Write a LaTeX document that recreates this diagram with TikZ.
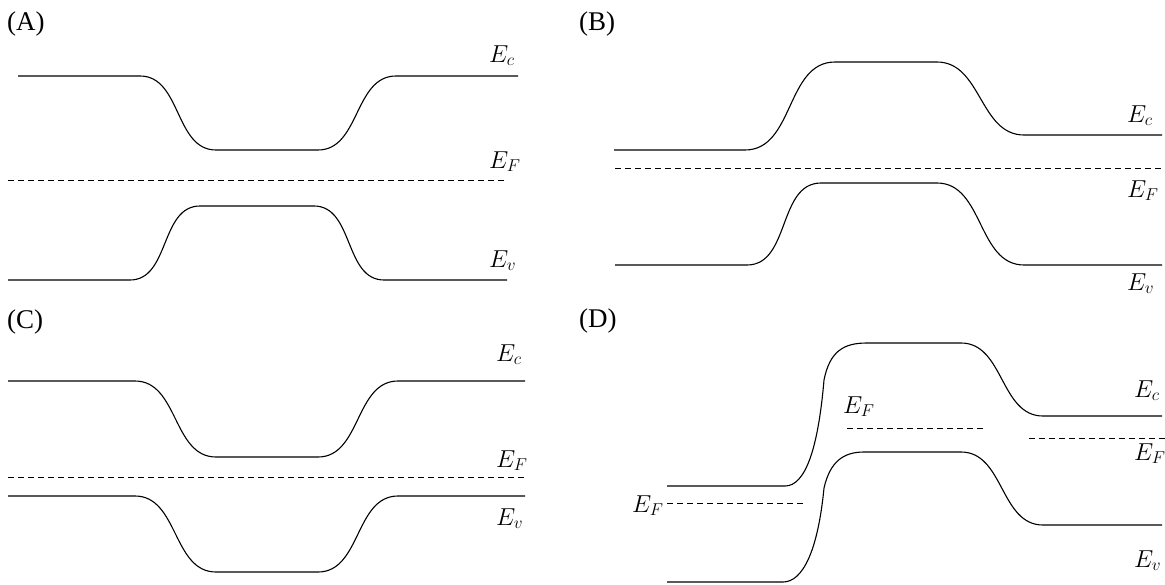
\RequirePackage{fix-cm}
\documentclass[tikz,border=0pt]{standalone}
\usepackage{fontspec}
\setmainfont{Liberation Serif}
\begin{document}
\begin{tikzpicture}[x=1pt,y=-1pt,
  band/.style={line width=1.1pt},
  fermi/.style={line width=0.9pt, dash pattern=on 6pt off 4pt},
  lab/.style={anchor=base west, inner sep=0pt, font=\fontsize{24.5}{28}\selectfont},
  panel/.style={anchor=base west, inner sep=0pt, font=\fontsize{27}{31}\selectfont}]
\useasboundingbox (0,0) rectangle (1165,584);

% ---------- (A)
\node[panel] (pA) at (7,30) {(A)};
\draw[band] (18,76) -- (140,76) to[out=0,in=180] (216,150) -- (318,150) to[out=0,in=180] (396,76) -- (518,76);
\draw[fermi] (8,180) -- (505,180);
\draw[band] (8,280) -- (130,280) to[out=0,in=180] (200,206) -- (314,206) to[out=0,in=180] (384,280) -- (507,280);
\node[lab] (aEc) at (489,62) {$E_c$};
\node[lab] (aEF) at (489,168) {$E_F$};
\node[lab] (aEv) at (489,267) {$E_v$};

% ---------- (B)
\node[panel] (pB) at (579,30) {(B)};
\draw[band] (614,150) -- (745,150) to[out=0,in=180] (835,62) -- (937,62) to[out=0,in=180] (1024,135) -- (1162,135);
\draw[fermi] (615,168) -- (1165,168);
\draw[band] (615,265) -- (747,265) to[out=0,in=180] (821,183) -- (937,183) to[out=0,in=180] (1024,265) -- (1162,265);
\node[lab] (bEc) at (1127,122) {$E_c$};
\node[lab] (bEF) at (1127,197) {$E_F$};
\node[lab] (bEv) at (1127,290) {$E_v$};

% ---------- (C)
\node[panel] (pC) at (7,328) {(C)};
\draw[band] (8,381) -- (135,381) to[out=0,in=180] (216,457) -- (318,457) to[out=0,in=180] (398,381) -- (525,381);
\draw[fermi] (8,477) -- (525,477);
\draw[band] (8,496) -- (135,496) to[out=0,in=180] (216,572) -- (318,572) to[out=0,in=180] (398,496) -- (525,496);
\node[lab] (cEc) at (496,361) {$E_c$};
\node[lab] (cEF) at (496,467) {$E_F$};
\node[lab] (cEv) at (496,525) {$E_v$};

% ---------- (D)
\node[panel] (pD) at (579,327) {(D)};
\draw[band] (667,486) -- (785,486) .. controls (805,486) and (818,450) .. (824,380)
  .. controls (830,350) and (845,343) .. (867,343) -- (961,343) to[out=0,in=180] (1043,416) -- (1162,416);
\draw[band] (667,582) -- (783,582) .. controls (803,582) and (818,550) .. (824,488)
  .. controls (830,462) and (843,452) .. (864,452) -- (961,452) to[out=0,in=180] (1043,525) -- (1162,525);
\draw[fermi] (667,503) -- (804,503);
\draw[fermi] (847,428) -- (985,428);
\draw[fermi] (1029,438) -- (1165,438);
\node[lab] (dEF1) at (632,512) {$E_F$};
\node[lab] (dEF2) at (843,413) {$E_F$};
\node[lab] (dEc) at (1134,397) {$E_c$};
\node[lab] (dEF3) at (1134,460) {$E_F$};
\node[lab] (dEv) at (1134,567) {$E_v$};
\end{tikzpicture}
\end{document}
